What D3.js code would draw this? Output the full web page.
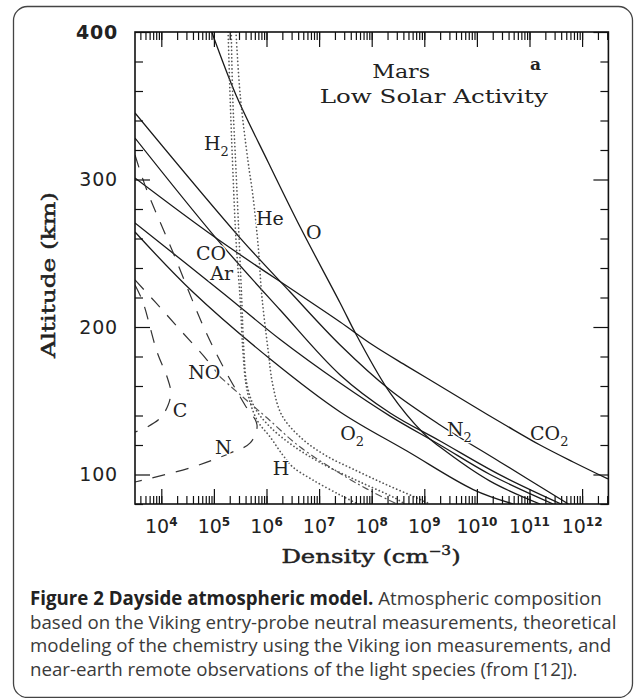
<!DOCTYPE html>
<html><head><meta charset="utf-8">
<script src="https://cdn.jsdelivr.net/npm/d3@7"></script>
<style>
body{margin:0;background:#fff;}
svg{display:block;}
</style></head><body>
<svg id="c" width="634" height="698"></svg>
<script>
// ---- data: [log10 density (cm^-3), altitude (km)] ----
const CO2 = [[3.50,301.0],[5.04,260.3],[6.64,221.7],[7.40,203.4],[8.02,187.8],[8.67,173.5],[9.30,160.0],[9.93,146.4],[10.57,132.9],[11.20,120.0],[11.83,108.5],[12.49,97.0]];
const N2  = [[3.50,345.1],[5.50,260.3],[6.45,223.7],[7.40,187.8],[8.35,157.3],[9.30,133.6],[10.44,108.5],[11.74,80.0]];
const CO  = [[3.50,328.1],[5.04,260.3],[6.26,211.5],[7.40,167.5],[8.35,141.7],[9.30,122.7],[10.44,99.7],[11.60,80.0]];
const Ar  = [[3.50,270.5],[5.17,223.1],[6.26,191.5],[7.40,162.0],[8.35,139.6],[9.30,120.0],[10.25,100.0],[11.45,80.0]];
const O2  = [[3.50,264.4],[4.60,223.7],[6.07,178.3],[7.40,142.4],[8.67,115.9],[9.93,89.8],[10.69,80.0]];
const O   = [[4.96,400.0],[5.42,357.3],[6.03,311.9],[6.65,267.1],[7.40,216.3],[7.72,193.9],[8.35,155.3],[8.98,128.1],[9.30,118.6],[10.25,95.5],[11.20,80.0]];
const N   = [[3.50,316.6],[3.71,294.2],[4.22,250.8],[4.83,198.0],[5.21,170.8],[5.59,147.1],[5.82,133.6],[5.69,121.4],[5.31,114.6],[4.60,105.1],[3.50,94.9]];
const C   = [[3.50,228.5],[3.65,216.9],[3.92,183.0],[4.11,166.1],[4.18,155.9],[4.13,147.1],[3.98,138.3],[3.73,132.2],[3.50,128.8]];
const NO  = [[3.50,231.9],[3.90,216.3],[4.36,198.0],[4.87,177.6],[5.12,166.1],[5.55,152.5],[5.99,139.0],[6.64,118.6],[7.51,98.3],[8.02,88.1],[8.48,80.0]];
const He  = [[5.42,400.0],[5.50,357.3],[5.65,311.9],[5.74,289.5],[5.84,255.6],[5.91,221.7],[6.03,184.4],[6.12,160.7],[6.29,140.3],[6.64,125.4],[7.11,113.2],[7.68,103.1],[8.25,93.6],[8.82,84.7],[9.11,80.0]];
const H2  = [[5.33,400.0],[5.36,353.9],[5.42,306.4],[5.48,259.0],[5.53,218.3],[5.57,184.4],[5.63,160.7],[5.78,145.1],[6.07,132.2],[6.54,118.6],[7.11,106.4],[7.78,94.9],[8.44,84.1],[8.63,80.0]];
const H   = [[5.27,400.0],[5.31,353.9],[5.36,306.4],[5.42,259.0],[5.50,218.3],[5.55,184.4],[5.63,157.3],[5.82,136.9],[6.07,125.4],[6.31,113.2],[6.50,105.1],[6.88,96.3],[7.40,86.1],[7.74,80.0]];

const xTickExponents = [4,5,6,7,8,9,10,11,12];
const yMajorTicks = [100,200,300,400];
const yMinorTicks = [80,120,140,160,180,220,240,260,280,320,340,360,380];
const captionBold = "Figure 2 Dayside atmospheric model.";
const captionLines = [
  " Atmospheric composition",
  "based on the Viking entry-probe neutral measurements, theoretical",
  "modeling of the chemistry using the Viking ion measurements, and",
  "near-earth remote observations of the light species (from [12])."
];

// ---- layout ----
const svg = d3.select("#c");
const P = {l:135, t:32, r:608.4, b:504};
const x = d3.scaleLog().domain([Math.pow(10,3.5), Math.pow(10,12.5)]).range([P.l, P.r]);
const y = d3.scaleLinear().domain([80,400]).range([P.b, P.t]);

svg.append("rect").attr("x",13.5).attr("y",6.5).attr("width",619).attr("height",691)
  .attr("rx",14).attr("fill","none").attr("stroke","#444").attr("stroke-width",1.3);

svg.append("defs").append("clipPath").attr("id","clip").append("rect")
  .attr("x",P.l).attr("y",P.t).attr("width",P.r-P.l).attr("height",P.b-P.t);

const line = d3.line().x(d=>x(Math.pow(10,d[0]))).y(d=>y(d[1])).curve(d3.curveCatmullRom.alpha(0.5));
const g = svg.append("g").attr("clip-path","url(#clip)");

const solid = [CO2,N2,CO,Ar,O2,O];
solid.forEach(s=>g.append("path").attr("d",line(s)).attr("fill","none").attr("stroke","#1a1a1a").attr("stroke-width",1.3));

[He,H2,H].forEach(s=>g.append("path").attr("d",line(s)).attr("fill","none").attr("stroke","#555")
  .attr("stroke-width",1.7).attr("stroke-linecap","round").attr("stroke-dasharray","0.1,3.6"));

[N,C].forEach(s=>g.append("path").attr("d",line(s)).attr("fill","none").attr("stroke","#333")
  .attr("stroke-width",1.2).attr("stroke-dasharray","13,11"));
const NOup = NO.filter(d=>d[1]>=166), NOlow = NO.filter(d=>d[1]<=166.1);
g.append("path").attr("d",line(NOup)).attr("fill","none").attr("stroke","#333").attr("stroke-width",1.2).attr("stroke-dasharray","13,11");
g.append("path").attr("d",line(NOlow)).attr("fill","none").attr("stroke","#555").attr("stroke-width",1.2).attr("stroke-dasharray","7,3,2,3");

// ---- axes (ticks inside) ----
function styleAxis(sel){ sel.select(".domain").remove(); sel.selectAll("line").attr("stroke","#111").attr("stroke-width",1.2); sel.selectAll("text").remove(); }
const minorX = x.ticks();
const majorX = xTickExponents.map(e=>Math.pow(10,e));
svg.append("g").attr("transform",`translate(0,${P.b})`).call(d3.axisBottom(x).tickValues(minorX).tickSize(-8)).call(styleAxis);
svg.append("g").attr("transform",`translate(0,${P.b})`).call(d3.axisBottom(x).tickValues(majorX).tickSize(-15)).call(styleAxis);
svg.append("g").attr("transform",`translate(0,${P.t})`).call(d3.axisTop(x).tickValues(minorX).tickSize(-8)).call(styleAxis);
svg.append("g").attr("transform",`translate(0,${P.t})`).call(d3.axisTop(x).tickValues(majorX).tickSize(-15)).call(styleAxis);
svg.append("g").attr("transform",`translate(${P.l},0)`).call(d3.axisLeft(y).tickValues(yMinorTicks).tickSize(-8)).call(styleAxis);
svg.append("g").attr("transform",`translate(${P.l},0)`).call(d3.axisLeft(y).tickValues(yMajorTicks).tickSize(-15)).call(styleAxis);
svg.append("g").attr("transform",`translate(${P.r},0)`).call(d3.axisRight(y).tickValues(yMinorTicks).tickSize(-8)).call(styleAxis);
svg.append("g").attr("transform",`translate(${P.r},0)`).call(d3.axisRight(y).tickValues(yMajorTicks).tickSize(-15)).call(styleAxis);

svg.append("rect").attr("x",P.l).attr("y",P.t).attr("width",P.r-P.l).attr("height",P.b-P.t)
  .attr("fill","none").attr("stroke","#111").attr("stroke-width",1.6);

// tick labels
svg.selectAll(".ylab").data(yMajorTicks).enter().append("text")
  .attr("x",P.l-17).attr("y",d=>y(d)).attr("dy","0.36em").attr("text-anchor","end")
  .attr("font-family","DejaVu Sans").attr("font-size",19).attr("letter-spacing",0.8)
  .attr("font-weight",d=>d===400?"bold":"normal").attr("fill","#222").text(d=>d);

const xl = svg.selectAll(".xlab").data(xTickExponents).enter().append("text")
  .attr("x",e=>x(Math.pow(10,e))).attr("y",533).attr("text-anchor","middle")
  .attr("font-family","DejaVu Sans").attr("font-size",19).attr("fill","#222");
xl.append("tspan").text("10");
xl.append("tspan").attr("dy",-7).attr("font-size",12).attr("font-weight","bold").text(e=>e);

// axis titles
const serif = "DejaVu Serif";
svg.append("text").attr("transform",`translate(55,${(P.t+P.b)/2+7}) rotate(-90)`).attr("text-anchor","middle")
  .attr("font-family",serif).attr("font-size",19).attr("fill","#222").attr("stroke","#222").attr("stroke-width",0.5)
  .attr("textLength",166).attr("lengthAdjust","spacingAndGlyphs")
  .text("Altitude (km)");
const dx = svg.append("g").attr("transform","translate(371,563) scale(1.28,1)")
  .append("text").attr("x",0).attr("y",0).attr("text-anchor","middle")
  .attr("font-family",serif).attr("font-size",19).attr("fill","#222").attr("stroke","#222").attr("stroke-width",0.45);
dx.append("tspan").text("Density (cm");
dx.append("tspan").attr("dy",-8).attr("font-size",12).text("−3");
dx.append("tspan").attr("dy",8).text(")");

// in-plot annotations (positions in data coordinates)
const labelPos = [
  {t:"H",s:"2",lx:4.81,la:320.0},{t:"He",lx:5.80,la:269.2},{t:"O",lx:6.75,la:259.7},
  {t:"CO",lx:4.66,la:245.4},{t:"Ar",lx:4.93,la:231.9},{t:"NO",lx:4.51,la:164.7},
  {t:"C",lx:4.22,la:139.0},{t:"N",lx:5.02,la:113.9},{t:"H",lx:6.12,la:99.7},
  {t:"O",s:"2",lx:7.40,la:123.4},{t:"N",s:"2",lx:9.43,la:126.1},{t:"CO",s:"2",lx:11.01,la:123.4}
];
labelPos.forEach(p=>{
  const t = svg.append("text").attr("x",x(Math.pow(10,p.lx))).attr("y",y(p.la))
    .attr("font-family",serif).attr("font-size",19).attr("fill","#222")
    .attr("stroke","#fff").attr("stroke-width",2.5).attr("paint-order","stroke");
  t.append("tspan").text(p.t);
  if(p.s) t.append("tspan").attr("dy",6).attr("font-size",13).text(p.s);
});
svg.append("text").attr("x",x(Math.pow(10,8.56))).attr("y",y(368.8)).attr("text-anchor","middle")
  .attr("font-family",serif).attr("font-size",19).attr("fill","#222")
  .attr("textLength",58).attr("lengthAdjust","spacingAndGlyphs").text("Mars");
svg.append("text").attr("x",x(Math.pow(10,9.18))).attr("y",y(351.9)).attr("text-anchor","middle")
  .attr("font-family",serif).attr("font-size",19).attr("fill","#222")
  .attr("textLength",228).attr("lengthAdjust","spacingAndGlyphs").text("Low Solar Activity");
svg.append("text").attr("x",x(Math.pow(10,11.01))).attr("y",y(374.2))
  .attr("font-family",serif).attr("font-size",17).attr("font-weight","bold").attr("fill","#222").text("a");

// caption
const cap = svg.append("g").attr("font-family","Open Sans").attr("font-size",18.7).attr("fill","#3a3a3a");
const l1 = cap.append("text").attr("x",30).attr("y",605);
l1.append("tspan").attr("font-weight","bold").attr("fill","#222").text(captionBold);
l1.append("tspan").text(captionLines[0]);
captionLines.slice(1).forEach((s,i)=>cap.append("text").attr("x",30).attr("y",628.5+i*23.7).text(s));
</script>
</body></html>
